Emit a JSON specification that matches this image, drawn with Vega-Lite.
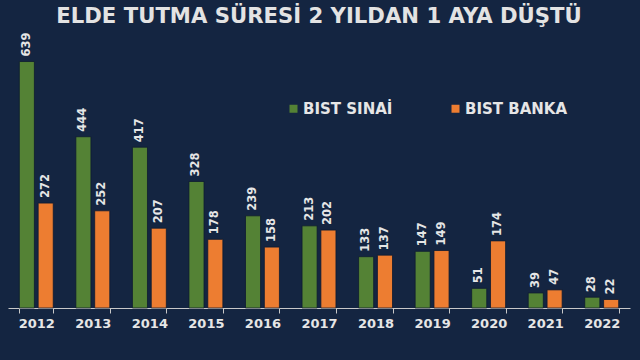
{
  "$schema": "https://vega.github.io/schema/vega-lite/v6.json",
  "autosize": {"type": "none"},
  "width": 622,
  "height": 270,
  "padding": {"left": 8, "top": 38, "right": 10, "bottom": 52},
  "background": "#142541",
  "title": {
    "text": "ELDE TUTMA SÜRESİ 2 YILDAN 1 AYA DÜŞTÜ",
    "font": "DejaVu Sans",
    "fontSize": 21.2,
    "fontWeight": "bold",
    "color": "#e3e3e3",
    "anchor": "middle",
    "frame": "group",
    "offset": 5
  },
  "config": {
    "view": {"stroke": null},
    "font": "DejaVu Sans"
  },
  "data": {
    "values": [
      {"year": "2012", "series": "BIST SINAİ", "value": 639},
      {"year": "2012", "series": "BIST BANKA", "value": 272},
      {"year": "2013", "series": "BIST SINAİ", "value": 444},
      {"year": "2013", "series": "BIST BANKA", "value": 252},
      {"year": "2014", "series": "BIST SINAİ", "value": 417},
      {"year": "2014", "series": "BIST BANKA", "value": 207},
      {"year": "2015", "series": "BIST SINAİ", "value": 328},
      {"year": "2015", "series": "BIST BANKA", "value": 178},
      {"year": "2016", "series": "BIST SINAİ", "value": 239},
      {"year": "2016", "series": "BIST BANKA", "value": 158},
      {"year": "2017", "series": "BIST SINAİ", "value": 213},
      {"year": "2017", "series": "BIST BANKA", "value": 202},
      {"year": "2018", "series": "BIST SINAİ", "value": 133},
      {"year": "2018", "series": "BIST BANKA", "value": 137},
      {"year": "2019", "series": "BIST SINAİ", "value": 147},
      {"year": "2019", "series": "BIST BANKA", "value": 149},
      {"year": "2020", "series": "BIST SINAİ", "value": 51},
      {"year": "2020", "series": "BIST BANKA", "value": 174},
      {"year": "2021", "series": "BIST SINAİ", "value": 39},
      {"year": "2021", "series": "BIST BANKA", "value": 47},
      {"year": "2022", "series": "BIST SINAİ", "value": 28},
      {"year": "2022", "series": "BIST BANKA", "value": 22}
    ]
  },
  "encoding": {
    "x": {
      "field": "year",
      "type": "nominal",
      "scale": {"paddingInner": 0.4, "paddingOuter": 0.2},
      "axis": {
        "title": null,
        "labelAngle": 0,
        "labelColor": "#e6e6e6",
        "labelFont": "DejaVu Sans",
        "labelFontSize": 13,
        "labelFontWeight": "bold",
        "labelPadding": 4,
        "domainColor": "#c8c8c8",
        "tickColor": "#c8c8c8",
        "tickSize": 5,
        "tickBand": "extent",
        "grid": false
      }
    },
    "xOffset": {
      "field": "series",
      "type": "nominal",
      "sort": ["BIST SINAİ", "BIST BANKA"],
      "scale": {"paddingInner": 0.2, "paddingOuter": 0}
    },
    "y": {
      "field": "value",
      "type": "quantitative",
      "scale": {"domain": [0, 700]},
      "axis": null
    }
  },
  "layer": [
    {
      "mark": {"type": "bar", "stroke": "#0e1b31", "strokeWidth": 0.8},
      "encoding": {
        "color": {
          "field": "series",
          "type": "nominal",
          "sort": ["BIST SINAİ", "BIST BANKA"],
          "scale": {"domain": ["BIST SINAİ", "BIST BANKA"], "range": ["#548235", "#ed7d31"]},
          "legend": {
            "title": null,
            "orient": "none",
            "direction": "horizontal",
            "legendX": 278,
            "legendY": 63,
            "symbolType": "square",
            "symbolSize": 64,
            "symbolStrokeWidth": 0,
            "labelColor": "#e6e6e6",
            "labelFont": "DejaVu Sans",
            "labelFontSize": 15,
            "labelFontWeight": "bold",
            "labelOffset": 2,
            "columnPadding": 55
          }
        }
      }
    },
    {
      "mark": {
        "type": "text",
        "angle": 270,
        "align": "left",
        "baseline": "middle",
        "dx": 5,
        "font": "DejaVu Sans",
        "fontSize": 11.5,
        "fontWeight": "bold",
        "color": "#e6e6e6"
      },
      "encoding": {
        "text": {"field": "value", "type": "quantitative"}
      }
    }
  ]
}
